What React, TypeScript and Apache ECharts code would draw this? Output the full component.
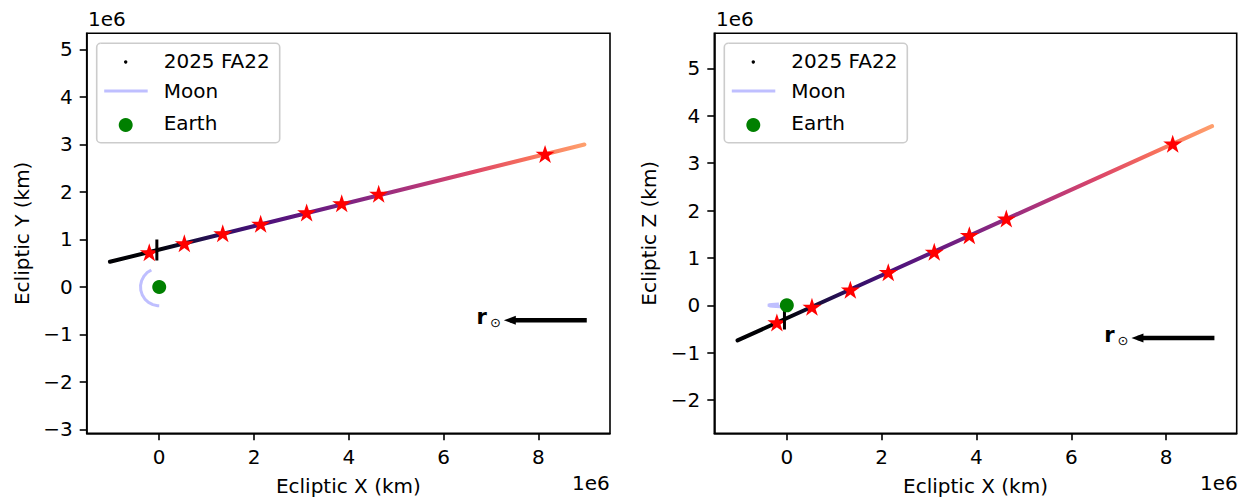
import React, { useEffect, useRef } from 'react';
import * as echarts from 'echarts';

// ---- data (km) ----
const trajX = [-1.04e6, 8.97e6];
const trajY = [0.53e6, 3.0e6];
const trajZ = [-0.74e6, 3.78e6];

const starX = [-0.21e6, 0.53e6, 1.34e6, 2.14e6, 3.11e6, 3.85e6, 4.63e6, 8.14e6];
const starY = [0.73e6, 0.92e6, 1.13e6, 1.33e6, 1.57e6, 1.76e6, 1.96e6, 2.8e6];
const starZ = [-0.36e6, -0.03e6, 0.33e6, 0.7e6, 1.13e6, 1.48e6, 1.83e6, 3.41e6];

const markX = [-0.05e6, -0.05e6];
const markY = [0.56e6, 1.0e6];
const markZ = [-0.51e6, 0.0];

const moonX = [-0.167e6, -0.254e6, -0.323e6, -0.371e6, -0.394e6, -0.389e6, -0.358e6, -0.303e6, -0.227e6, -0.135e6, -0.034e6, 0.0];
const moonY = [0.358e6, 0.303e6, 0.227e6, 0.135e6, 0.034e6, -0.069e6, -0.167e6, -0.254e6, -0.323e6, -0.371e6, -0.394e6, -0.395e6];
const moonZ = [0.028e6, 0.024e6, 0.018e6, 0.011e6, 0.003e6, -0.005e6, -0.013e6, -0.02e6, -0.026e6, -0.03e6, -0.033e6, -0.033e6];

const earthPos = [0, 0];

const arrowShaftX = [9.02e6, 7.4e6];
const arrowTipX = 7.27e6;
const arrowYLeft = -0.7e6;
const arrowZRight = -0.69e6;

const xTicks = [0, 2e6, 4e6, 6e6, 8e6];
const yTicksL = [-3e6, -2e6, -1e6, 0, 1e6, 2e6, 3e6, 4e6, 5e6];
const yTicksR = [-2e6, -1e6, 0, 1e6, 2e6, 3e6, 4e6, 5e6];

const legendNames = ['2025 FA22', 'Moon', 'Earth'];

const magmaStops: [number, string][] = [
  [0, '#000004'],
  [0.1, '#000004'],
  [0.16, '#150e38'],
  [0.25, '#341068'],
  [0.33, '#4d127b'],
  [0.44, '#6c1d81'],
  [0.55, '#8c2981'],
  [0.66, '#b73779'],
  [0.77, '#de4968'],
  [0.88, '#f7705c'],
  [1, '#fe9f6d'],
];

const FONT = 'DejaVu Sans';
const STAR = 'path://M0,-1 L0.2245,-0.309 L0.9511,-0.309 L0.3633,0.118 L0.5878,0.809 L0,0.382 L-0.5878,0.809 L-0.3633,0.118 L-0.9511,-0.309 L-0.2245,-0.309 Z';
const MOON_COLOR = 'rgba(0,0,255,0.25)';

const zip = (a: number[], b: number[]) => a.map((v, i) => [v, b[i]]);
const fmt = (v: number) => {
  const n = Math.round(v / 1e6);
  return n < 0 ? '\u2212' + Math.abs(n) : String(n);
};

function axisBase(ticks: number[]) {
  return {
    type: 'value',
    axisLine: { show: true, onZero: false, lineStyle: { color: '#000', width: 1.6 } },
    axisTick: { show: true, length: 7, lineStyle: { color: '#000', width: 1.6 }, customValues: ticks },
    axisLabel: { show: true, margin: 14, color: '#000', fontSize: 20, fontFamily: FONT, formatter: fmt, customValues: ticks },
    splitLine: { show: false },
    nameTextStyle: { color: '#000', fontSize: 20, fontFamily: FONT },
  };
}

function panelSeries(idx: number, ys: number[], starVals: number[], markVals: number[], moonVals: number[], arrowV: number) {
  const ax = { xAxisIndex: idx, yAxisIndex: idx };
  return [
    {
      ...ax, type: 'line', name: 'Moon', data: zip(moonX, moonVals), showSymbol: false, symbol: 'none',
      lineStyle: { color: MOON_COLOR, width: 3 }, z: 2,
    },
    {
      ...ax, type: 'line', name: '2025 FA22', data: zip(trajX, ys), symbol: 'none',
      lineStyle: { color: new echarts.graphic.LinearGradient(0, 0, 1, 0, magmaStops.map(([o, c]) => ({ offset: o, color: c }))), width: 4, cap: 'round' },
      z: 3,
    },
    {
      ...ax, type: 'scatter', name: 'stars', data: zip(starX, starVals), symbol: STAR, symbolSize: [19, 18],
      itemStyle: { color: '#ff0000', opacity: 1 }, z: 4,
    },
    {
      ...ax, type: 'line', name: 'mark', data: zip(markX, markVals), symbol: 'none',
      lineStyle: { color: '#000', width: 3 }, z: 5,
    },
    {
      ...ax, type: 'scatter', name: 'Earth', data: [earthPos], symbol: 'circle', symbolSize: 14,
      itemStyle: { color: '#008000', opacity: 1 }, z: 6,
    },
    {
      ...ax, type: 'line', name: 'sun', data: zip(arrowShaftX, [arrowV, arrowV]), symbol: 'none',
      lineStyle: { color: '#000', width: 4.5, cap: 'butt' }, z: 7,
    },
    {
      ...ax, type: 'scatter', name: 'sunhead', data: [[arrowTipX, arrowV]], symbol: 'triangle', symbolSize: [9, 12],
      symbolRotate: 90, symbolOffset: [6, 0], itemStyle: { color: '#000', opacity: 1 }, z: 7,
      label: {
        show: true, position: 'left', distance: 3, offset: [0, -3],
        formatter: '{r|r}{s|\u2299}',
        rich: {
          r: { fontSize: 21, fontWeight: 'bold', fontFamily: FONT, color: '#000' },
          s: { fontSize: 13, fontFamily: FONT, color: '#000', padding: [10, 0, 0, 3] },
        },
      },
    },
  ];
}

function legend(x0: number) {
  const textStyle = (y: number, t: string) => ({
    type: 'text', left: x0 + 67, top: y - 12,
    style: { text: t, fontSize: 20, fontFamily: FONT, fill: '#000' },
    z: 100,
  });
  return [
    { type: 'rect', shape: { x: x0, y: 43.3, width: 183, height: 99.4, r: 4 }, style: { fill: 'rgba(255,255,255,0.8)', stroke: '#cccccc', lineWidth: 1.6 }, z: 99 },
    { type: 'circle', shape: { cx: x0 + 29, cy: 62, r: 1.7 }, style: { fill: '#000' }, z: 100 },
    { type: 'line', shape: { x1: x0 + 7.5, y1: 91, x2: x0 + 51, y2: 91 }, style: { stroke: MOON_COLOR, lineWidth: 3 }, z: 100 },
    { type: 'circle', shape: { cx: x0 + 29, cy: 125, r: 7 }, style: { fill: '#008000' }, z: 100 },
    textStyle(63, legendNames[0]),
    textStyle(93, legendNames[1]),
    textStyle(125, legendNames[2]),
  ];
}

export default function App() {
  const ref = useRef<HTMLDivElement>(null);
  useEffect(() => {
    if (!ref.current) return;
    const chart = echarts.init(ref.current, undefined, { renderer: 'svg' });
    const option = {
      animation: false,
      backgroundColor: '#ffffff',
      grid: [
        { left: 86.7, top: 33.3, width: 523.3, height: 400, show: true, borderColor: '#000', borderWidth: 1.6, containLabel: false, outerBoundsMode: 'none' },
        { left: 714.3, top: 33.3, width: 522.4, height: 400, show: true, borderColor: '#000', borderWidth: 1.6, containLabel: false, outerBoundsMode: 'none' },
      ],
      xAxis: [
        { ...axisBase(xTicks), gridIndex: 0, min: -1.53e6, max: 9.51e6, name: 'Ecliptic X (km)', nameLocation: 'middle', nameGap: 43 },
        { ...axisBase(xTicks), gridIndex: 1, min: -1.53e6, max: 9.49e6, name: 'Ecliptic X (km)', nameLocation: 'middle', nameGap: 43 },
      ],
      yAxis: [
        { ...axisBase(yTicksL), gridIndex: 0, min: -3.08e6, max: 5.34e6, name: 'Ecliptic Y (km)', nameLocation: 'middle', nameGap: 55, nameRotate: 90 },
        { ...axisBase(yTicksR), gridIndex: 1, min: -2.7e6, max: 5.74e6, name: 'Ecliptic Z (km)', nameLocation: 'middle', nameGap: 55, nameRotate: 90 },
      ],
      series: [
        ...panelSeries(0, trajY, starY, markY, moonY, arrowYLeft),
        ...panelSeries(1, trajZ, starZ, markZ, moonZ, arrowZRight),
      ],
      graphic: [
        ...legend(96.7),
        ...legend(724.3),
        { type: 'text', left: 88, top: 9, style: { text: '1e6', fontSize: 20, fontFamily: FONT, fill: '#000' } },
        { type: 'text', left: 716, top: 9, style: { text: '1e6', fontSize: 20, fontFamily: FONT, fill: '#000' } },
        { type: 'text', left: 572, top: 473, style: { text: '1e6', fontSize: 20, fontFamily: FONT, fill: '#000' } },
        { type: 'text', left: 1200, top: 473, style: { text: '1e6', fontSize: 20, fontFamily: FONT, fill: '#000' } },
      ],
    };
    chart.setOption(option as any);
    return () => chart.dispose();
  }, []);
  return (
    <div
      ref={ref}
      style={{ position: 'fixed', left: 0, top: 0, width: 1242, height: 497, background: '#fff' }}
    />
  );
}
